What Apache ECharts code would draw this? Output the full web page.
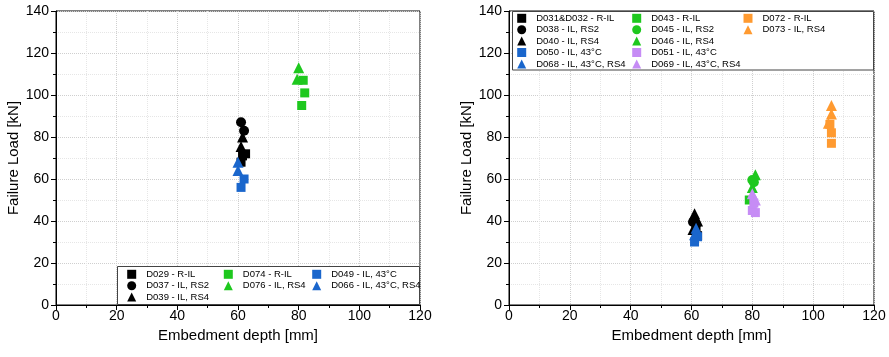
<!DOCTYPE html>
<html><head><meta charset="utf-8">
<script src="https://cdn.jsdelivr.net/npm/echarts@6/dist/echarts.min.js"></script>
<style>html,body{margin:0;padding:0;background:#fff}#c{width:889px;height:357px}</style>
</head><body><div id="c"></div>
<script>
// ---- Left chart data ----
const L_D029_x = [62.5, 61.5, 61];   const L_D029_y = [72, 71, 68];
const L_D037_x = [61, 62];           const L_D037_y = [87, 83];
const L_D039_x = [61.5, 61];         const L_D039_y = [80, 75.5];
const L_D074_x = [81.5, 82, 81];     const L_D074_y = [107, 101, 95];
const L_D076_x = [80, 79.5];         const L_D076_y = [113, 107.5];
const L_D049_x = [62, 61];           const L_D049_y = [60, 56];
const L_D066_x = [60, 60];           const L_D066_y = [68, 64];
// ---- Right chart data ----
const R_D031_x = [62, 61.5];         const R_D031_y = [33, 35.5];
const R_D038_x = [60.5, 61.5];       const R_D038_y = [39.5, 38.5];
const R_D040_x = [61, 60.5, 62];     const R_D040_y = [43.5, 36, 40];
const R_D050_x = [61, 62];           const R_D050_y = [30, 32.5];
const R_D068_x = [61.5, 61];         const R_D068_y = [36.5, 33.5];
const R_D043_x = [79];               const R_D043_y = [50];
const R_D045_x = [80.5, 80];         const R_D045_y = [58.5, 59.5];
const R_D046_x = [81, 80];           const R_D046_y = [62, 56];
const R_D051_x = [80.5, 80, 81];     const R_D051_y = [48.5, 45, 44];
const R_D069_x = [80, 81];           const R_D069_y = [53, 50];
const R_D072_x = [105.5, 106, 106];  const R_D072_y = [86, 82, 77];
const R_D073_x = [106, 106, 105];    const R_D073_y = [95, 91, 86.5];

const xTicks = [0, 20, 40, 60, 80, 100, 120];
const yTicks = [0, 20, 40, 60, 80, 100, 120, 140];

const C = {black:'#000000', green:'#1ec81e', blue:'#1a66cc', purple:'#c68cf5', orange:'#ff9a30'};
const FONT = 'Liberation Sans, Arial, sans-serif';

function pts(xs, ys){ return xs.map((x,i)=>[x, ys[i]]); }
function S(name, xs, ys, sym, color, gi){
  const size = sym==='rect' ? 9 : (sym==='circle' ? 10 : 11);
  return {name, type:'scatter', xAxisIndex:gi, yAxisIndex:gi, symbol:sym, symbolSize:size,
    itemStyle:{color, opacity:1}, emphasis:{disabled:true}, data:pts(xs,ys), z:3};
}
const series = [
  S('D029 - R-IL', L_D029_x, L_D029_y, 'rect', C.black, 0),
  S('D037 - IL, RS2', L_D037_x, L_D037_y, 'circle', C.black, 0),
  S('D039 - IL, RS4', L_D039_x, L_D039_y, 'triangle', C.black, 0),
  S('D074 - R-IL', L_D074_x, L_D074_y, 'rect', C.green, 0),
  S('D076 - IL, RS4', L_D076_x, L_D076_y, 'triangle', C.green, 0),
  S('D049 - IL, 43°C', L_D049_x, L_D049_y, 'rect', C.blue, 0),
  S('D066 - IL, 43°C, RS4', L_D066_x, L_D066_y, 'triangle', C.blue, 0),

  S('D031&D032 - R-IL', R_D031_x, R_D031_y, 'rect', C.black, 1),
  S('D038 - IL, RS2', R_D038_x, R_D038_y, 'circle', C.black, 1),
  S('D040 - IL, RS4', R_D040_x, R_D040_y, 'triangle', C.black, 1),
  S('D050 - IL, 43°C', R_D050_x, R_D050_y, 'rect', C.blue, 1),
  S('D068 - IL, 43°C, RS4', R_D068_x, R_D068_y, 'triangle', C.blue, 1),
  S('D043 - R-IL', R_D043_x, R_D043_y, 'rect', C.green, 1),
  S('D045 - IL, RS2', R_D045_x, R_D045_y, 'circle', C.green, 1),
  S('D046 - IL, RS4', R_D046_x, R_D046_y, 'triangle', C.green, 1),
  S('D051 - IL, 43°C', R_D051_x, R_D051_y, 'rect', C.purple, 1),
  S('D069 - IL, 43°C, RS4', R_D069_x, R_D069_y, 'triangle', C.purple, 1),
  S('D072 - R-IL', R_D072_x, R_D072_y, 'rect', C.orange, 1),
  S('D073 - IL, RS4', R_D073_x, R_D073_y, 'triangle', C.orange, 1),
];

function xAx(gi){
  return {type:'value', gridIndex:gi, min:xTicks[0], max:xTicks[xTicks.length-1], interval:20,
    name:'Embedment depth [mm]', nameLocation:'middle', nameGap:17,
    nameTextStyle:{fontFamily:FONT, fontSize:15, color:'#000'},
    axisLine:{show:true, lineStyle:{color:'#000', width:1}},
    axisTick:{show:true, length:5, lineStyle:{color:'#000'}},
    minorTick:{show:true, splitNumber:2, length:3, lineStyle:{color:'#000'}},
    axisLabel:{fontFamily:FONT, fontSize:14, color:'#000', margin:4},
    splitLine:{show:true, lineStyle:{color:'#cfcfcf', type:'dotted', width:1}},
    minorSplitLine:{show:true, lineStyle:{color:'#e6e6e6', type:'dotted', width:1}}};
}
function yAx(gi){
  return {type:'value', gridIndex:gi, min:yTicks[0], max:yTicks[yTicks.length-1], interval:20,
    name:'Failure Load [kN]', nameLocation:'middle', nameGap:31,
    nameTextStyle:{fontFamily:FONT, fontSize:15, color:'#000'},
    axisLine:{show:true, lineStyle:{color:'#000', width:1}},
    axisTick:{show:true, length:5, lineStyle:{color:'#000'}},
    minorTick:{show:true, splitNumber:2, length:3, lineStyle:{color:'#000'}},
    axisLabel:{fontFamily:FONT, fontSize:14, color:'#000', margin:7},
    splitLine:{show:true, lineStyle:{color:'#cfcfcf', type:'dotted', width:1}},
    minorSplitLine:{show:true, lineStyle:{color:'#e6e6e6', type:'dotted', width:1}}};
}
function leg(left, top, names){
  return {orient:'vertical', left, top, itemWidth:9, itemHeight:9, itemGap:0.4,
    padding:0, selectedMode:false, data:names,
    itemStyle:{opacity:1},
    textStyle:{fontFamily:FONT, fontSize:9.5, lineHeight:11, color:'#000', padding:[0,0,0,5]}};
}

const chart = echarts.init(document.getElementById('c'), null, {renderer:'canvas'});
chart.setOption({
  animation:false,
  backgroundColor:'#fff',
  grid:[
    {left:56, top:11, width:364, height:294, show:true, borderColor:'#000', borderWidth:1, backgroundColor:'transparent'},
    {left:509, top:11, width:365, height:294, show:true, borderColor:'#000', borderWidth:1, backgroundColor:'transparent'}
  ],
  xAxis:[xAx(0), xAx(1)],
  yAxis:[yAx(0), yAx(1)],
  graphic:[
    {type:'rect', shape:{x:117.5, y:266.5, width:302, height:38}, style:{fill:'#fff', stroke:'#444', lineWidth:1}, z:1},
    {type:'rect', shape:{x:512.5, y:11.5, width:361, height:58.5}, style:{fill:'#fff', stroke:'#444', lineWidth:1}, z:1}
  ],
  legend:[
    leg(127.2, 268.8, ['D029 - R-IL','D037 - IL, RS2','D039 - IL, RS4']),
    leg(223.8, 268.8, ['D074 - R-IL','D076 - IL, RS4']),
    leg(312.2, 268.8, ['D049 - IL, 43°C','D066 - IL, 43°C, RS4']),
    leg(517.2, 12.8, ['D031&D032 - R-IL','D038 - IL, RS2','D040 - IL, RS4','D050 - IL, 43°C','D068 - IL, 43°C, RS4']),
    leg(632.2, 12.8, ['D043 - R-IL','D045 - IL, RS2','D046 - IL, RS4','D051 - IL, 43°C','D069 - IL, 43°C, RS4']),
    leg(743.5, 12.8, ['D072 - R-IL','D073 - IL, RS4'])
  ],
  series
});
</script></body></html>
